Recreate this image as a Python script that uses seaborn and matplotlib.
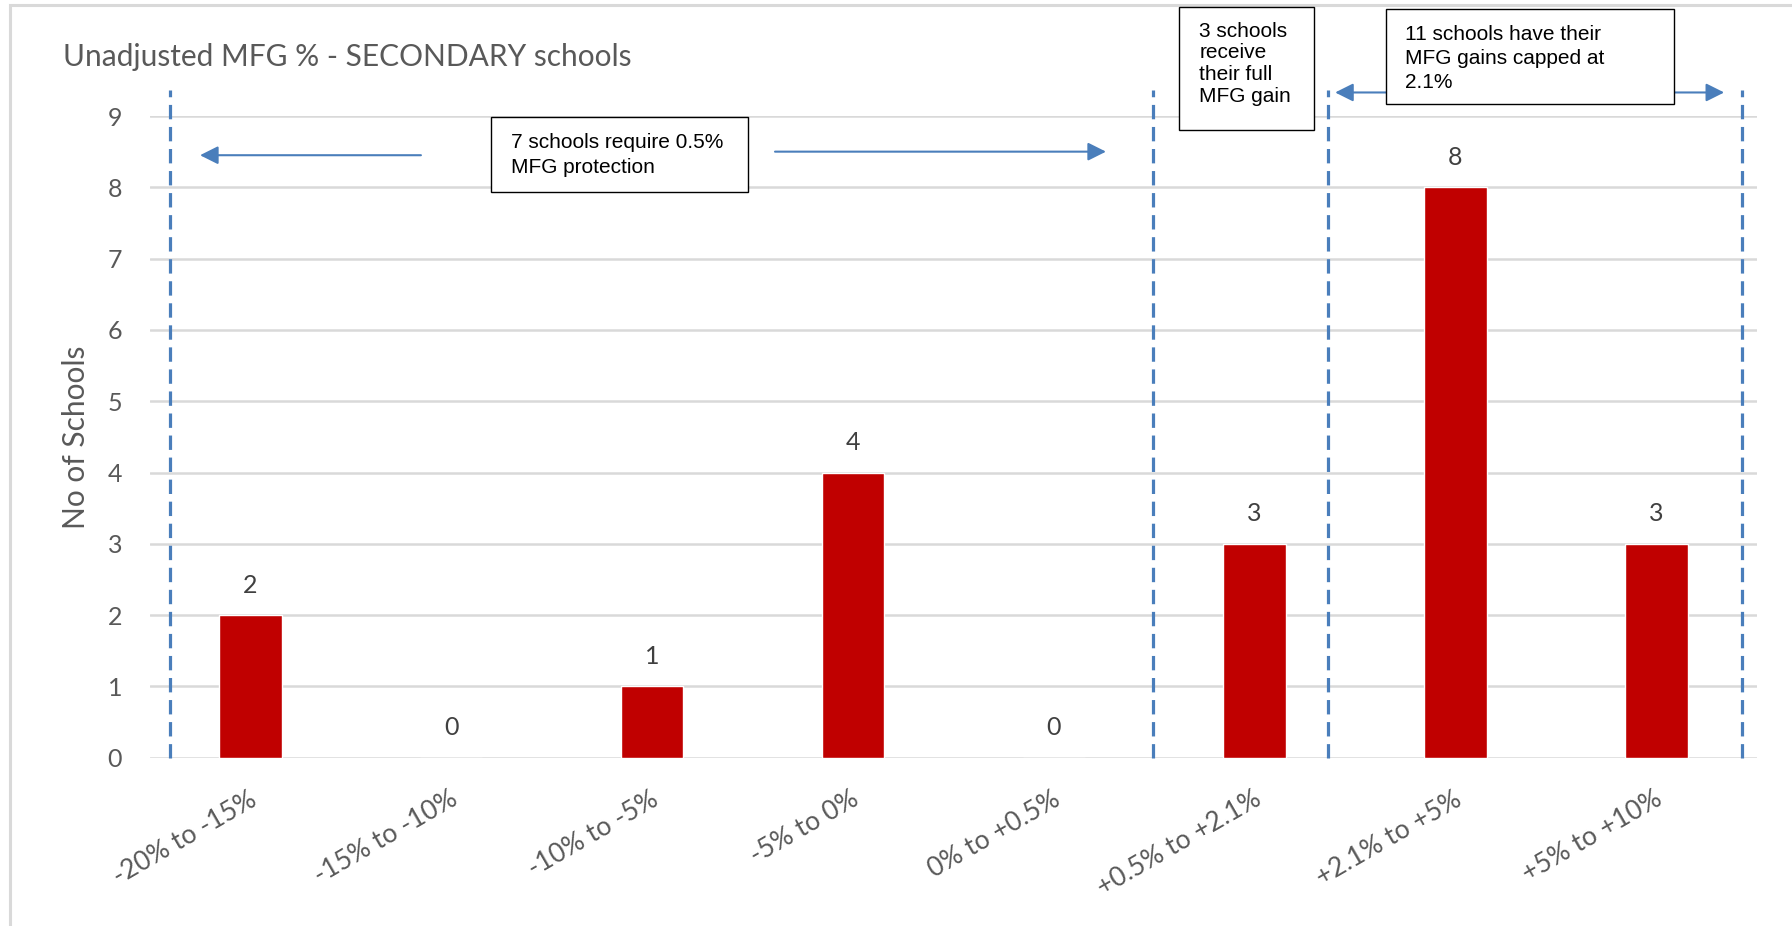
import matplotlib
matplotlib.use("Agg")
import matplotlib.pyplot as plt
from matplotlib.patches import Rectangle
from matplotlib.transforms import ScaledTranslation
import seaborn as sns
import pandas as pd

categories = ["-20% to -15%", "-15% to -10%", "-10% to -5%", "-5% to 0%",
              "0% to +0.5%", "+0.5% to +2.1%", "+2.1% to +5%", "+5% to +10%"]
counts = [2, 0, 1, 4, 0, 3, 8, 3]
yticks = list(range(0, 10))
title = "Unadjusted MFG % - SECONDARY schools"
ylabel = "No of Schools"
box1_lines = ["7 schools require 0.5%", "MFG protection"]
box2_lines = ["3 schools", "receive", "their full", "MFG gain"]
box3_lines = ["11 schools have their", "MFG gains capped at", "2.1%"]

sns.set_style("white")
plt.rcParams["font.family"] = ["Lato", "DejaVu Sans"]

W, H = 1792, 926
DPI = 100
fig = plt.figure(figsize=(W / DPI, H / DPI), dpi=DPI)
fig.patch.set_facecolor("white")

def fx(px):
    return px / W

def fy(py):
    return 1 - py / H

ax = fig.add_axes([fx(150), fy(757.7), fx(1756.7) - fx(150), fy(116) - fy(757.7)])

df = pd.DataFrame({"cat": categories, "n": counts})
sns.barplot(data=df, x="cat", y="n", color="#C00000", width=0.311,
            saturation=1, ax=ax, zorder=3)

ax.set_xlim(-0.5, 7.5)
ax.set_ylim(0, 9)
ax.set_yticks(yticks)
ax.yaxis.grid(True, color="#D9D9D9", linewidth=1.8, zorder=0)
ax.xaxis.grid(False)
for s in ax.spines.values():
    s.set_visible(False)
ax.tick_params(axis="both", length=0)
ax.tick_params(axis="y", labelsize=18, labelcolor="#595959", pad=20)
ax.set_xlabel("")
ax.set_ylabel("")
ax.set_xticks(range(len(categories)))
ax.set_xticklabels(categories, rotation=30, ha="right", rotation_mode="anchor",
                   fontsize=19, color="#595959")
ax.tick_params(axis="x", pad=0)
shift = ScaledTranslation(-2 / DPI, -29 / DPI, fig.dpi_scale_trans)
for lab in ax.get_xticklabels():
    lab.set_transform(lab.get_transform() + shift)

# data labels
for i, v in enumerate(counts):
    ax.annotate(str(v), (i, v), xytext=(0, 21.6), textcoords="offset points",
                ha="center", va="center", fontsize=18, color="#404040")

# dashed separators
blue = "#4A7EBB"
for xv in [-0.401, 4.493, 5.366, 7.428]:
    ax.plot([xv, xv], [0, 9.36], linestyle=(0, (4.5, 2.4)), color=blue,
            linewidth=2.3, clip_on=False, zorder=4)

# arrows
arrow_kw = dict(arrowstyle="-|>,head_length=1.1,head_width=0.55", color=blue,
                linewidth=1.5, shrinkA=0, shrinkB=0)
for (x0, y0, x1, y1) in [(0.849, 8.45, -0.251, 8.45),
                          (2.612, 8.50, 4.26, 8.50),
                          (5.664, 9.33, 5.401, 9.33),
                          (7.077, 9.33, 7.338, 9.33)]:
    ax.annotate("", xy=(x1, y1), xytext=(x0, y0), arrowprops=arrow_kw,
                annotation_clip=False)

# title and y label
fig.text(fx(63), fy(66), title, fontsize=21.5, color="#595959",
         ha="left", va="baseline")
fig.text(fx(76), fy(437), ylabel, fontsize=21.5, color="#595959", rotation=90,
         ha="center", va="center")

# annotation boxes: (x0, y0, x1, y1) box, text x, first baseline, line step (px)
boxes = [((491, 117.3, 748.3, 191.7), 511, 148.3, 24.4, box1_lines),
         ((1179, 6.7, 1314, 130), 1199.3, 36.7, 21.7, box2_lines),
         ((1386, 9.3, 1674, 104), 1405, 40, 24.0, box3_lines)]
for (x0, y0, x1, y1), tx, base, step, lines in boxes:
    fig.patches.append(Rectangle((fx(x0), fy(y1)), fx(x1) - fx(x0), fy(y0) - fy(y1),
                                 transform=fig.transFigure, facecolor="white",
                                 edgecolor="black", linewidth=1.0, zorder=5))
    for k, line in enumerate(lines):
        fig.text(fx(tx), fy(base + k * step), line, fontsize=15,
                 family=["Liberation Sans", "DejaVu Sans"], color="black",
                 ha="left", va="baseline", zorder=6)

# outer chart border
fig.patches.append(Rectangle((fx(10), fy(1000)), fx(2000), fy(5) - fy(1000),
                             transform=fig.transFigure, facecolor="none",
                             edgecolor="#D9D9D9", linewidth=2.2, zorder=0))

fig.savefig("out.png", dpi=DPI)
